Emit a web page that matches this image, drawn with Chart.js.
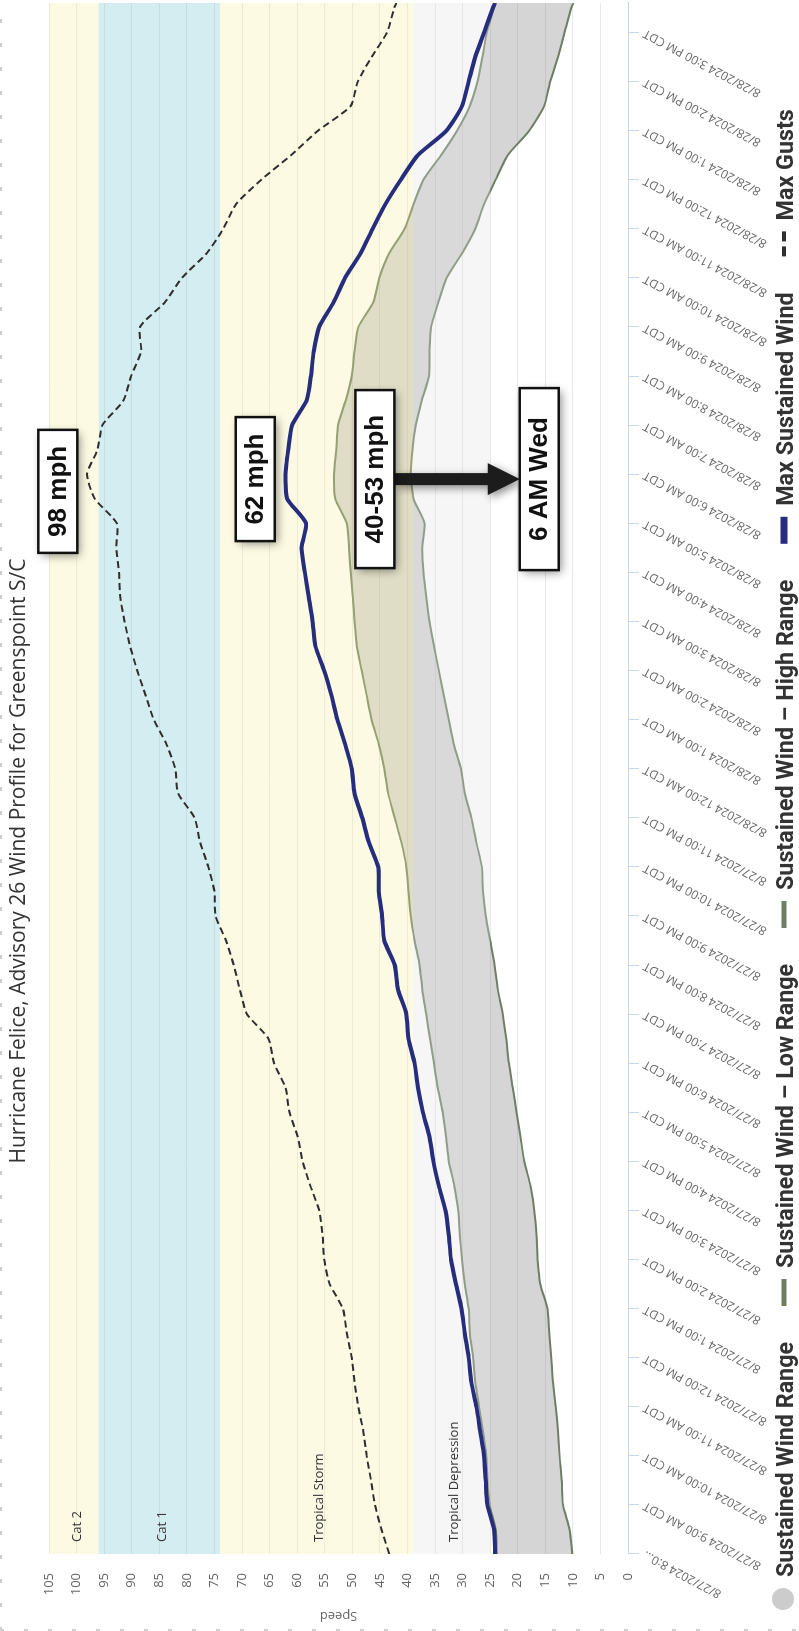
<!DOCTYPE html>
<html>
<head>
<meta charset="utf-8">
<title>Hurricane Felice wind profile</title>
<script src="https://cdn.jsdelivr.net/npm/chart.js@4.4.1/dist/chart.umd.min.js"></script>
<style>
  html, body { margin: 0; padding: 0; background: #fff; overflow: hidden; }
  #page { position: relative; width: 799px; height: 1631px; overflow: hidden; }
  /* the chart is laid out landscape and turned a quarter turn */
  #wrap { position: absolute; left: 0; top: 0; width: 1631px; height: 799px;
          transform-origin: 0 0; transform: translateY(1631px) rotate(-90deg); }
  #chart { display: block; }
</style>
</head>
<body>
<div id="page">
  <div id="wrap">
    <canvas id="chart" width="1631" height="799"></canvas>
  </div>
</div>
<script>
const chartTitle = "Hurricane Felice, Advisory 26 Wind Profile for Greenspoint S/C";

// hours after 8/27/2024 8:00 AM CDT
const hours = [0, 0.5, 1, 1.5, 2, 2.5, 3, 3.5, 4, 4.5, 5, 5.5, 6, 6.5, 7, 7.5,
  8, 8.5, 9, 9.5, 10, 10.5, 11, 11.5, 12, 12.5, 13, 13.5, 14, 14.5, 15, 15.5,
  16, 16.5, 17, 17.5, 18, 18.5, 19, 19.5, 20, 20.5, 21, 21.5, 22, 22.5, 23, 23.5,
  24, 24.5, 25, 25.5, 26, 26.5, 27, 27.5, 28, 28.5, 29, 29.5, 30, 30.5, 31, 31.5, 31.6];

const lowRange = [10.1, 10.6, 11.8, 12.0, 12.4, 12.7, 13.1, 13.6, 13.9, 14.3, 14.6, 15.9, 16.4, 16.6, 17.0, 17.7,
  18.8, 19.5, 20.2, 20.9, 21.6, 22.1, 22.7, 23.6, 24.2, 25.0, 25.8, 26.3, 26.5, 27.5, 28.4, 29.6,
  30.3, 31.6, 32.5, 33.4, 34.3, 35.2, 36.0, 36.6, 37.1, 37.3, 36.9, 38.9, 39.4, 39.1, 38.5, 37.4,
  36.1, 36.0, 35.7, 34.4, 32.9, 30.1, 27.7, 26.1, 24.0, 21.8, 17.9, 15.2, 14.1, 12.7, 11.5, 10.3, 9.9];

const highRange = [23.8, 24.0, 25.1, 25.5, 25.7, 26.3, 27.0, 27.7, 28.1, 28.7, 28.9, 29.6, 30.1, 30.5, 30.8, 31.5,
  32.5, 33.0, 33.6, 34.5, 35.2, 35.9, 36.6, 37.3, 37.8, 38.7, 39.4, 39.8, 40.2, 41.1, 42.3, 43.5,
  44.2, 45.2, 46.5, 47.4, 48.3, 49.2, 49.6, 49.9, 50.3, 50.6, 51.0, 53.1, 53.3, 52.9, 52.6, 51.2,
  50.1, 49.6, 48.9, 46.2, 45.1, 43.3, 40.5, 38.9, 37.1, 33.9, 31.0, 28.7, 27.3, 26.4, 25.6, 24.3, 24.0];

const maxSustained = [24.1, 24.3, 25.5, 25.8, 26.1, 26.8, 27.5, 28.4, 28.9, 29.6, 30.2, 31.2, 32.1, 32.5, 33.1, 34.3,
  35.3, 36.0, 37.2, 38.1, 38.7, 39.8, 40.2, 41.7, 42.3, 44.2, 44.6, 45.2, 45.3, 47.0, 48.2, 49.6,
  50.1, 51.3, 52.7, 53.8, 55.1, 56.7, 57.2, 57.9, 58.6, 59.2, 58.4, 61.8, 62.1, 61.6, 60.9, 58.3,
  57.5, 57.0, 56.0, 53.4, 51.3, 48.5, 46.3, 44.0, 41.2, 38.1, 32.9, 30.1, 28.9, 27.7, 26.1, 24.5, 24.1];

const maxGusts = [43.3, 44.7, 45.9, 46.6, 47.4, 48.0, 48.9, 49.6, 50.1, 51.0, 51.7, 54.1, 55.1, 55.4, 56.0, 57.6,
  59.0, 59.9, 61.4, 62.1, 64.2, 65.2, 69.1, 70.4, 71.5, 72.9, 74.8, 75.0, 76.1, 77.6, 78.6, 81.6,
  82.1, 83.7, 86.0, 87.5, 89.0, 90.3, 91.3, 92.1, 92.3, 92.8, 92.7, 96.7, 98.1, 96.2, 95.3, 91.5,
  90.1, 88.3, 88.5, 84.0, 80.9, 76.4, 73.4, 71.1, 66.5, 61.1, 56.2, 50.3, 49.0, 46.5, 43.7, 42.4, 42.0];

const timeLabels = ["8/27/2024 8:0…", "8/27/2024 9:00 AM CDT", "8/27/2024 10:00 AM CDT", "8/27/2024 11:00 AM CDT",
  "8/27/2024 12:00 PM CDT", "8/27/2024 1:00 PM CDT", "8/27/2024 2:00 PM CDT", "8/27/2024 3:00 PM CDT",
  "8/27/2024 4:00 PM CDT", "8/27/2024 5:00 PM CDT", "8/27/2024 6:00 PM CDT", "8/27/2024 7:00 PM CDT",
  "8/27/2024 8:00 PM CDT", "8/27/2024 9:00 PM CDT", "8/27/2024 10:00 PM CDT", "8/27/2024 11:00 PM CDT",
  "8/28/2024 12:00 AM CDT", "8/28/2024 1:00 AM CDT", "8/28/2024 2:00 AM CDT", "8/28/2024 3:00 AM CDT",
  "8/28/2024 4:00 AM CDT", "8/28/2024 5:00 AM CDT", "8/28/2024 6:00 AM CDT", "8/28/2024 7:00 AM CDT",
  "8/28/2024 8:00 AM CDT", "8/28/2024 9:00 AM CDT", "8/28/2024 10:00 AM CDT", "8/28/2024 11:00 AM CDT",
  "8/28/2024 12:00 PM CDT", "8/28/2024 1:00 PM CDT", "8/28/2024 2:00 PM CDT", "8/28/2024 3:00 PM CDT"];

// storm category bands (speed), laid over the range area like a tint
const bandNames = ["Tropical Depression", "Tropical Storm", "Cat 1", "Cat 2"];
const bandFrom = [25, 39, 74, 96];
const bandTo = [39, 74, 96, 130];
const bandColors = ["rgba(225,225,225,0.3)", "rgba(245,238,158,0.3)", "rgba(112,195,208,0.3)", "rgba(245,238,158,0.3)"];

// legend
const seriesNames = ["Sustained Wind Range", "Sustained Wind – Low Range", "Sustained Wind – High Range", "Max Sustained Wind", "Max Gusts"];
const rangeColor = "#6f7e63";
const navy = "#262d7d";
const gustColor = "#2e2e2e";

// call-outs: hour, speed at the centre of the box
const notes = [
  { text: "98 mph", hour: 21.65, speed: 103.4, w: 123 },
  { text: "62 mph", hour: 21.9, speed: 67.6, w: 124 },
  { text: "40-53 mph", hour: 21.9, speed: 45.9, w: 178 },
  { text: "6 AM Wed", hour: 21.9, speed: 16.1, w: 182 }
];

const pts = (vals) => hours.map((h, i) => ({ x: h, y: vals[i] }));

// ---------- bands + their names (drawn before the max lines) ----------
const bandsPlugin = {
  id: "bands",
  beforeDatasetDraw(chart, args) {
    if (args.index !== 2) return;
    const { ctx, chartArea: a, scales: { y } } = chart;
    ctx.save();
    ctx.beginPath();
    ctx.rect(a.left, a.top, a.right - a.left, a.bottom - a.top);
    ctx.clip();
    bandFrom.forEach((from, i) => {
      const top = y.getPixelForValue(bandTo[i]);
      const bottom = y.getPixelForValue(from);
      ctx.fillStyle = bandColors[i];
      ctx.fillRect(a.left, top, a.right - a.left, bottom - top);
    });
    ctx.font = '13px "Open Sans", sans-serif';
    ctx.fillStyle = "#333";
    ctx.textBaseline = "middle";
    bandFrom.forEach((from, i) => {
      const top = Math.max(y.getPixelForValue(bandTo[i]), a.top);
      const bottom = y.getPixelForValue(from);
      ctx.fillText(bandNames[i], a.left + 12, (top + bottom) / 2 + 3);
    });
    ctx.restore();
  }
};

// ---------- boxes and arrow ----------
const notesPlugin = {
  id: "notes",
  afterDatasetsDraw(chart) {
    const { ctx, scales: { x, y } } = chart;
    const boxH = 39;
    ctx.save();
    const boxes = notes.map((n) => {
      const cx = x.getPixelForValue(n.hour);
      const cy = y.getPixelForValue(n.speed);
      return { n, cx, cy, left: cx - n.w / 2, top: cy - boxH / 2 };
    });
    const b3 = boxes[2], b4 = boxes[3];
    const ax = b3.cx, y0 = b3.top + boxH, y1 = b4.top;
    ctx.shadowColor = "rgba(0,0,0,0.45)";
    ctx.shadowBlur = 9;
    ctx.shadowOffsetX = -3;
    ctx.shadowOffsetY = 3;
    ctx.fillStyle = "#1c1c1c";
    ctx.beginPath();
    ctx.moveTo(ax - 6, y0);
    ctx.lineTo(ax + 6, y0);
    ctx.lineTo(ax + 6, y1 - 32);
    ctx.lineTo(ax + 16, y1 - 32);
    ctx.lineTo(ax, y1);
    ctx.lineTo(ax - 16, y1 - 32);
    ctx.lineTo(ax - 6, y1 - 32);
    ctx.closePath();
    ctx.fill();
    boxes.forEach((b) => {
      ctx.shadowColor = "rgba(0,0,0,0.45)";
      ctx.fillStyle = "#fff";
      ctx.fillRect(b.left, b.top, b.n.w, boxH);
      ctx.shadowColor = "transparent";
      ctx.lineWidth = 2.5;
      ctx.strokeStyle = "#111";
      ctx.strokeRect(b.left, b.top, b.n.w, boxH);
      ctx.fillStyle = "#111";
      ctx.font = 'bold 26px "Liberation Sans", Arial, sans-serif';
      ctx.textAlign = "center";
      ctx.textBaseline = "middle";
      ctx.fillText(b.n.text, b.cx, b.cy + 1);
    });
    ctx.restore();
  }
};

// ---------- title, legend, edge dashes ----------
const framePlugin = {
  id: "frame",
  afterDraw(chart) {
    const { ctx, width } = chart;
    ctx.save();
    // title
    ctx.font = '21px "Open Sans", sans-serif';
    ctx.fillStyle = "#333";
    ctx.textAlign = "center";
    ctx.textBaseline = "middle";
    ctx.fillText(chartTitle, 770, 19);

    // faint dashed edge (top and left)
    ctx.strokeStyle = "#cfcfcf";
    ctx.lineWidth = 2;
    ctx.setLineDash([4, 20]);
    ctx.beginPath();
    ctx.moveTo(0, 1); ctx.lineTo(width, 1);
    ctx.moveTo(1, 0); ctx.lineTo(1, chart.height);
    ctx.stroke();
    ctx.setLineDash([]);

    // legend
    ctx.font = 'bold 24px Roboto, "Open Sans", sans-serif';
    const squeeze = 235 / ctx.measureText(seriesNames[0]).width;
    const mid = 784;
    let lx = 21;
    seriesNames.forEach((name, i) => {
      let symW = 27;
      if (i === 0) {
        symW = 22;
        ctx.fillStyle = "#ccc";
        ctx.beginPath();
        ctx.arc(lx + 11, mid - 1, 11, 0, Math.PI * 2);
        ctx.fill();
      } else if (i === 1 || i === 2) {
        ctx.fillStyle = rangeColor;
        ctx.fillRect(lx, mid - 2.5, 27, 5);
      } else if (i === 3) {
        ctx.fillStyle = navy;
        ctx.fillRect(lx, mid - 3.5, 27, 7);
      } else {
        symW = 25;
        ctx.fillStyle = gustColor;
        ctx.fillRect(lx, mid - 2, 10, 4);
        ctx.fillRect(lx + 15, mid - 2, 10, 4);
      }
      lx += symW + 11;
      ctx.save();
      ctx.translate(lx, 793);
      ctx.scale(squeeze, 1);
      ctx.fillStyle = "#333";
      ctx.textAlign = "left";
      ctx.textBaseline = "alphabetic";
      ctx.fillText(name, 0, 0);
      ctx.restore();
      lx += ctx.measureText(name).width * squeeze + 36;
    });
    ctx.restore();
  }
};

new Chart(document.getElementById("chart"), {
  type: "line",
  data: {
    datasets: [
      { label: seriesNames[1], data: pts(lowRange), borderColor: rangeColor, borderWidth: 2, fill: false, order: 3 },
      { label: seriesNames[2], data: pts(highRange), borderColor: rangeColor, borderWidth: 2,
        fill: 0, backgroundColor: "rgba(128,128,128,0.33)", order: 2 },
      { label: seriesNames[3], data: pts(maxSustained), borderColor: navy, borderWidth: 4, fill: false, order: 1 },
      { label: seriesNames[4], data: pts(maxGusts), borderColor: gustColor, borderWidth: 2, borderDash: [7, 4], fill: false, order: 0 }
    ]
  },
  options: {
    responsive: false,
    animation: false,
    elements: { point: { radius: 0 }, line: { tension: 0.2 } },
    layout: { padding: { top: 49, right: 3, left: 0, bottom: 0 } },
    plugins: {
      legend: { display: false },
      tooltip: { enabled: false },
      title: { display: false }
    },
    scales: {
      x: {
        type: "linear", min: 0, max: 31.6,
        afterFit: (s) => { s.height = 171; },
        border: { color: "#ccd6eb" },
        grid: { drawOnChartArea: false, color: "#ccd6eb", tickLength: 11 },
        ticks: {
          stepSize: 1, includeBounds: false, autoSkip: false, minRotation: 62, maxRotation: 62,
          color: "#666", padding: 2, font: { family: '"Open Sans", sans-serif', size: 12 },
          callback: (v) => timeLabels[v] ?? ""
        }
      },
      y: {
        min: 0, max: 105,
        afterFit: (s) => { s.width = 77; },
        border: { display: false },
        grid: { color: "rgba(0,0,0,0.09)", drawTicks: false },
        ticks: { stepSize: 5, color: "#666", padding: 19, font: { family: '"Open Sans", sans-serif', size: 13 } },
        title: { display: true, text: "Speed", color: "#666", padding: { top: 7, bottom: 0 },
                 font: { family: '"Open Sans", sans-serif', size: 13 } }
      }
    }
  },
  plugins: [bandsPlugin, notesPlugin, framePlugin]
});
</script>
</body>
</html>
